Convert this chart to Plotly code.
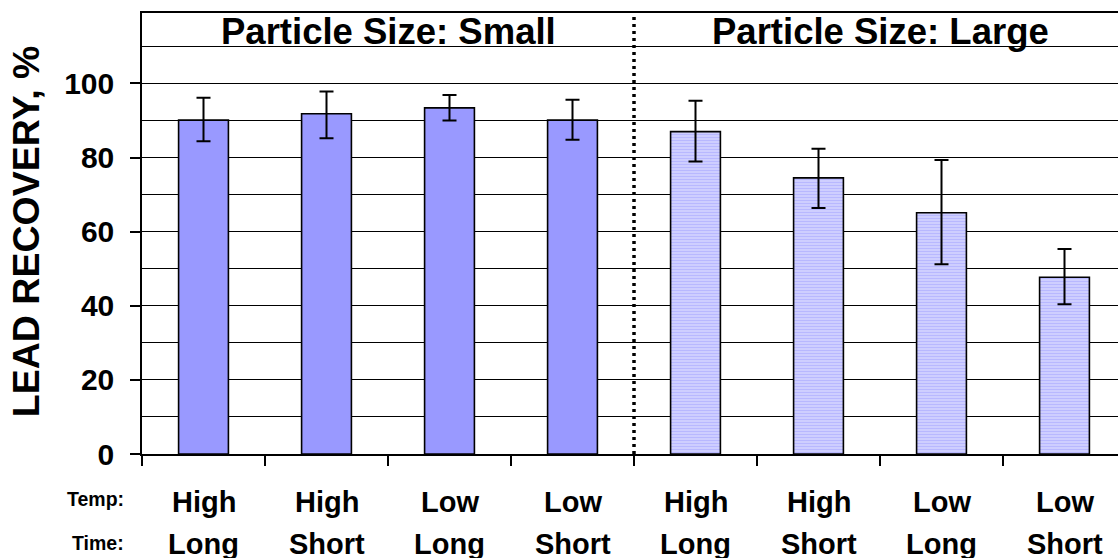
import plotly.graph_objects as go

# ---- data ----
temp_labels = ["High", "High", "Low", "Low", "High", "High", "Low", "Low"]
time_labels = ["Long", "Short", "Long", "Short", "Long", "Short", "Long", "Short"]
small_values = [90.1, 91.8, 93.4, 90.1]
small_err_plus = [6.0, 6.0, 3.5, 5.5]
small_err_minus = [5.7, 6.6, 3.4, 5.3]
large_values = [87.0, 74.5, 65.1, 47.7]
large_err_plus = [8.3, 7.9, 14.2, 7.6]
large_err_minus = [8.1, 8.1, 13.9, 7.3]
group_titles = ["Particle Size: Small", "Particle Size: Large"]
row_titles = ["Temp:", "Time:"]
y_ticks = [0, 20, 40, 60, 80, 100]

FONT = "Liberation Sans, Arial, sans-serif"
n = len(temp_labels)
x_small = list(range(0, 4))
x_large = list(range(4, 8))

fig = go.Figure()
fig.add_trace(go.Bar(
    x=x_small, y=small_values, width=0.405,
    marker=dict(color="#9999FF", line=dict(color="black", width=1.6)),
    error_y=dict(type="data", array=small_err_plus, arrayminus=small_err_minus,
                 color="black", thickness=2, width=7),
    showlegend=False,
))
fig.add_trace(go.Bar(
    x=x_large, y=large_values, width=0.405,
    marker=dict(color="#D0D0FF", line=dict(color="black", width=1.6),
                pattern=dict(shape="-", fgcolor="#9999FF", bgcolor="#D6D6FF",
                             size=3, solidity=0.5)),
    error_y=dict(type="data", array=large_err_plus, arrayminus=large_err_minus,
                 color="black", thickness=2, width=7),
    showlegend=False,
))

# divider between groups
fig.add_shape(type="line", xref="x", yref="paper", x0=3.5, x1=3.5, y0=0, y1=1,
              line=dict(color="black", width=3.5, dash="3px,4px"))

# group titles
for i, t in enumerate(group_titles):
    fig.add_annotation(x=1.5 + 4 * i, xref="x", y=0.958, yref="paper", text=t,
                       showarrow=False, yanchor="middle",
                       font=dict(family=FONT, size=36.5, color="black", weight="bold"))

# category labels
for i in range(n):
    fig.add_annotation(x=i, xref="x", y=-0.108, yref="paper", text=temp_labels[i],
                       showarrow=False, yanchor="middle",
                       font=dict(family=FONT, size=29, color="black", weight="bold"))
    fig.add_annotation(x=i, xref="x", y=-0.205, yref="paper", text=time_labels[i],
                       showarrow=False, yanchor="middle",
                       font=dict(family=FONT, size=29, color="black", weight="bold"))
for j, rt in enumerate(row_titles):
    fig.add_annotation(x=-0.0164, xref="paper", y=[-0.101, -0.202][j], yref="paper",
                       text=rt, showarrow=False, xanchor="right", yanchor="middle",
                       font=dict(family=FONT, size=19.5, color="black", weight="bold"))

# y title
fig.add_annotation(x=-0.119, xref="paper", y=0.505, yref="paper",
                   text="LEAD RECOVERY, %", textangle=-90, showarrow=False,
                   xanchor="center", yanchor="middle",
                   font=dict(family=FONT, size=37.5, color="black", weight="bold"))

fig.update_xaxes(
    range=[-0.5, 7.435], showgrid=False, zeroline=False,
    showline=True, linecolor="black", linewidth=1.5, mirror=True,
    tickmode="array", tickvals=[i - 0.5 for i in range(n + 1)],
    ticks="outside", ticklen=10, tickcolor="black", tickwidth=1.5,
    showticklabels=False,
)
fig.update_yaxes(
    range=[0, 119], tickmode="array", tickvals=y_ticks,
    ticks="outside", ticklen=10, tickcolor="black", tickwidth=1.5,
    showgrid=True, gridcolor="black", gridwidth=1,
    minor=dict(dtick=10, tick0=0, showgrid=True, gridcolor="black", gridwidth=1, ticks=""),
    zeroline=False, showline=True, linecolor="black", linewidth=1.5,
    tickfont=dict(family=FONT, size=30, color="black", weight="bold"),
    ticklabelstandoff=10,
)
fig.update_layout(
    width=1118, height=558, barmode="overlay",
    margin=dict(l=142, r=0, t=13, b=104),
    paper_bgcolor="white", plot_bgcolor="white",
)
fig.write_html("out.html")
